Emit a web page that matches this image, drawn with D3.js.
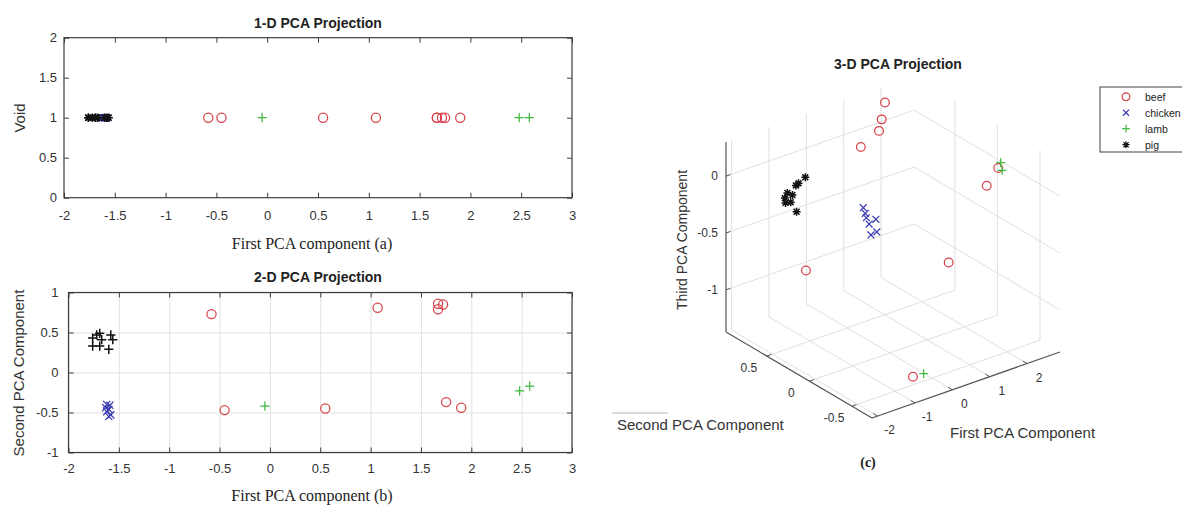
<!DOCTYPE html>
<html>
<head>
<meta charset="utf-8">
<script src="https://cdn.jsdelivr.net/npm/d3@7"></script>
<style>
  body { margin: 0; background: #fff; }
  svg { display: block; }
</style>
</head>
<body>
<script>
// PCA scores (PC1, PC2, PC3) per class
var beefPC1 = [-0.58, -0.45, 0.55, 1.07, 1.67, 1.67, 1.72, 1.75, 1.90];
var beefPC2 = [0.73, -0.47, -0.45, 0.81, 0.86, 0.79, 0.85, -0.37, -0.44];
var beefPC3 = [-0.90, -1.32, -0.44, -0.04, 0.01, 0.29, 0.11, 0.06, 0.23];

var chickenPC1 = [-1.62, -1.59, -1.63, -1.60, -1.62, -1.60, -1.58];
var chickenPC2 = [-0.40, -0.41, -0.44, -0.46, -0.49, -0.55, -0.53];
var chickenPC3 = [0.27, 0.22, 0.20, 0.15, 0.07, 0.12, 0.22];

var lambPC1 = [-0.05, 2.48, 2.58];
var lambPC2 = [-0.42, -0.23, -0.17];
var lambPC3 = [-1.36, 0.05, 0.08];

var pigPC1 = [-1.76, -1.72, -1.69, -1.67, -1.58, -1.56, -1.76, -1.69, -1.60];
var pigPC2 = [0.43, 0.47, 0.49, 0.41, 0.47, 0.41, 0.33, 0.33, 0.29];
var pigPC3 = [0.05, -0.06, -0.03, 0.03, -0.07, -0.13, 0.16, 0.17, 0.23];

var classNames = ["beef", "chicken", "lamb", "pig"];

// tick labels
var pc1Ticks = [-2, -1.5, -1, -0.5, 0, 0.5, 1, 1.5, 2, 2.5, 3];
var voidTicks = [0, 0.5, 1, 1.5, 2];
var pc2Ticks = [-1, -0.5, 0, 0.5, 1];
var ticks3x = [-2, -1, 0, 1, 2];
var ticks3y = [-0.5, 0, 0.5];
var ticks3z = [-1, -0.5, 0];

var colors = { beef: "#d9434b", chicken: "#3b3bb3", lamb: "#3fb93f", pig: "#111111" };
var markers = { beef: "o", chicken: "x", lamb: "+", pig: "*" };

var classes = [
  { name: "beef", pc1: beefPC1, pc2: beefPC2, pc3: beefPC3 },
  { name: "chicken", pc1: chickenPC1, pc2: chickenPC2, pc3: chickenPC3 },
  { name: "lamb", pc1: lambPC1, pc2: lambPC2, pc3: lambPC3 },
  { name: "pig", pc1: pigPC1, pc2: pigPC2, pc3: pigPC3 }
];
var points = [];
classes.forEach(function(c) {
  c.pc1.forEach(function(v, i) {
    points.push({ name: c.name, x: v, y: c.pc2[i], z: c.pc3[i] });
  });
});

var sans = "Arial, 'Liberation Sans', Helvetica, sans-serif";
var serif = "'Times New Roman', 'Liberation Serif', serif";
var axisColor = "#3d3d3d";
var textColor = "#333";

function markerPath(m, s) {
  s = s || 1;
  if (m == "o") return d3.symbol().type(d3.symbolCircle).size(66 * s * s)();
  if (m == "x") { var a = 3.6 * s; return "M" + -a + "," + -a + "L" + a + "," + a + "M" + -a + "," + a + "L" + a + "," + -a; }
  if (m == "+") { var b = 4.6 * s; return "M" + -b + ",0H" + b + "M0," + -b + "V" + b; }
  // asterisk = plus + cross
  var p = 4.2 * s, q = 3.1 * s;
  return "M" + -p + ",0H" + p + "M0," + -p + "V" + p +
         "M" + -q + "," + -q + "L" + q + "," + q + "M" + -q + "," + q + "L" + q + "," + -q;
}

function drawPoints(g, data, fx, fy, scale, override) {
  g.selectAll("path.pt")
    .data(data)
    .enter().append("path")
      .attr("class", "pt")
      .attr("d", function(d) { return markerPath((override && override[d.name]) || markers[d.name], scale); })
      .attr("transform", function(d) { return "translate(" + fx(d) + "," + fy(d) + ")"; })
      .attr("fill", "none")
      .attr("stroke", function(d) { return colors[d.name]; })
      .attr("stroke-width", function(d) { return d.name == "pig" ? 1.5 : 1.25; });
}

var svg = d3.select("body").append("svg")
    .attr("width", 1182)
    .attr("height", 506);

// 2-D style axes box with inward ticks on all sides
function boxAxes(g, x, y, xt, yt, xPad, yPad, grid) {
  var x0 = x.range()[0], x1 = x.range()[1], y0 = y.range()[0], y1 = y.range()[1];
  if (grid) {
    g.append("g").attr("transform", "translate(0," + y0 + ")")
      .call(d3.axisBottom(x).tickValues(xt).tickSize(-(y0 - y1)).tickFormat(""))
      .call(function(s) { s.select(".domain").remove(); s.selectAll("line").attr("stroke", "#e2e2e2"); });
    g.append("g").attr("transform", "translate(" + x0 + ",0)")
      .call(d3.axisLeft(y).tickValues(yt).tickSize(-(x1 - x0)).tickFormat(""))
      .call(function(s) { s.select(".domain").remove(); s.selectAll("line").attr("stroke", "#e2e2e2"); });
  }
  var fmt = function(d) { return String(d); };
  var styleAxis = function(s) {
    s.select(".domain").remove();
    s.selectAll("line").attr("stroke", axisColor);
    s.selectAll("text").attr("fill", textColor).style("font-family", sans).style("font-size", "13px");
  };
  g.append("g").attr("transform", "translate(0," + y0 + ")")
    .call(d3.axisBottom(x).tickValues(xt).tickSize(-5).tickPadding(xPad).tickFormat(fmt)).call(styleAxis);
  g.append("g").attr("transform", "translate(0," + y1 + ")")
    .call(d3.axisTop(x).tickValues(xt).tickSize(-5).tickFormat("")).call(styleAxis);
  g.append("g").attr("transform", "translate(" + x0 + ",0)")
    .call(d3.axisLeft(y).tickValues(yt).tickSize(-5).tickPadding(yPad).tickFormat(fmt)).call(styleAxis);
  g.append("g").attr("transform", "translate(" + x1 + ",0)")
    .call(d3.axisRight(y).tickValues(yt).tickSize(-5).tickFormat("")).call(styleAxis);
  g.append("rect")
    .attr("x", x0).attr("y", y1).attr("width", x1 - x0).attr("height", y0 - y1)
    .attr("fill", "none").attr("stroke", axisColor).attr("stroke-width", 1.2);
}

// ---------- (a) 1-D projection ----------
var xA = d3.scaleLinear().domain([-2, 3]).range([64, 572]);
var yA = d3.scaleLinear().domain([0, 2]).range([197.7, 37.7]);
var gA = svg.append("g");
boxAxes(gA, xA, yA, pc1Ticks, voidTicks, 13, 7, false);
drawPoints(gA, points, function(d) { return xA(d.x); }, function(d) { return yA(1); }, 1);

gA.append("text").attr("x", 318).attr("y", 28).attr("text-anchor", "middle")
  .style("font-family", sans).style("font-size", "14px").style("font-weight", "bold")
  .attr("fill", "#222").text("1-D PCA Projection");
gA.append("text").attr("transform", "translate(25,118) rotate(-90)").attr("text-anchor", "middle")
  .style("font-family", sans).style("font-size", "15px").attr("fill", textColor).text("Void");
gA.append("text").attr("x", 312).attr("y", 249).attr("text-anchor", "middle")
  .style("font-family", serif).style("font-size", "16px").attr("fill", "#222")
  .text("First PCA component  (a)");

// ---------- (b) 2-D projection ----------
var xB = d3.scaleLinear().domain([-2, 3]).range([68.5, 572]);
var yB = d3.scaleLinear().domain([-1, 1]).range([452.5, 292.5]);
var gB = svg.append("g");
boxAxes(gB, xB, yB, pc1Ticks, pc2Ticks, 11, 10, true);
drawPoints(gB, points, function(d) { return xB(d.x); }, function(d) { return yB(d.y); }, 1, { pig: "+" });

gB.append("text").attr("x", 318).attr("y", 282).attr("text-anchor", "middle")
  .style("font-family", sans).style("font-size", "14px").style("font-weight", "bold")
  .attr("fill", "#222").text("2-D PCA Projection");
gB.append("text").attr("transform", "translate(24,373) rotate(-90)").attr("text-anchor", "middle")
  .style("font-family", sans).style("font-size", "15px").attr("fill", textColor).text("Second PCA Component");
gB.append("text").attr("x", 312).attr("y", 501).attr("text-anchor", "middle")
  .style("font-family", serif).style("font-size", "16px").attr("fill", "#222")
  .text("First PCA component  (b)");

// ---------- (c) 3-D projection ----------
// screen corners of the axes box (orthographic view)
var cornerB = [872, 418];  // (xmin, ymin, zmin)
var cornerC = [1060, 352]; // (xmax, ymin, zmin)
var cornerA = [726, 332];  // (xmin, ymax, zmin)
var zHeight = 190;

var s3x = d3.scaleLinear().domain([-2.15, 2.88]).range([0, 1]);
var s3y = d3.scaleLinear().domain([-0.735, 0.98]).range([0, 1]);
var s3z = d3.scaleLinear().domain([-1.37, 0.30]).range([0, 1]);
var X0 = s3x.domain()[0], X1 = s3x.domain()[1];
var Y0 = s3y.domain()[0], Y1 = s3y.domain()[1];
var Z0 = s3z.domain()[0], Z1 = s3z.domain()[1];

function proj(x, y, z) {
  var u = s3x(x), v = s3y(y), w = s3z(z);
  return [
    cornerB[0] + u * (cornerC[0] - cornerB[0]) + v * (cornerA[0] - cornerB[0]),
    cornerB[1] + u * (cornerC[1] - cornerB[1]) + v * (cornerA[1] - cornerB[1]) - w * zHeight
  ];
}

var gC = svg.append("g");
var line3 = function(a, b, color, w) {
  var p = proj(a[0], a[1], a[2]), q = proj(b[0], b[1], b[2]);
  gC.append("line").attr("x1", p[0]).attr("y1", p[1]).attr("x2", q[0]).attr("y2", q[1])
    .attr("stroke", color).attr("stroke-width", w || 1);
};
var gridColor = "#e0e0e0";

// floor grid
ticks3x.forEach(function(t) { line3([t, Y0, Z0], [t, Y1, Z0], gridColor); });
ticks3y.forEach(function(t) { line3([X0, t, Z0], [X1, t, Z0], gridColor); });
// back wall y = ymax
ticks3x.forEach(function(t) { line3([t, Y1, Z0], [t, Y1, Z1], gridColor); });
ticks3z.forEach(function(t) { line3([X0, Y1, t], [X1, Y1, t], gridColor); });
// back wall x = xmax
ticks3y.forEach(function(t) { line3([X1, t, Z0], [X1, t, Z1], gridColor); });
ticks3z.forEach(function(t) { line3([X1, Y0, t], [X1, Y1, t], gridColor); });

// axis lines
var axc = "#555";
line3([X0, Y1, Z0], [X0, Y1, Z1], axc, 1.2);
line3([X0, Y0, Z0], [X0, Y1, Z0], axc, 1.2);
line3([X0, Y0, Z0], [X1, Y0, Z0], axc, 1.2);

// tick marks and labels
ticks3z.forEach(function(t) {
  line3([X0, Y1, t], [X0 + 0.12, Y1, t], axc);
  var p = proj(X0, Y1, t);
  gC.append("text").attr("x", p[0] - 8).attr("y", p[1] + 4).attr("text-anchor", "end")
    .style("font-family", sans).style("font-size", "12px").attr("fill", textColor).text(String(t));
});
ticks3y.forEach(function(t) {
  line3([X0, t, Z0], [X0 + 0.12, t, Z0], axc);
  var p = proj(X0, t, Z0);
  gC.append("text").attr("x", p[0] - 18).attr("y", p[1] + 16).attr("text-anchor", "middle")
    .style("font-family", sans).style("font-size", "12px").attr("fill", textColor).text(String(t));
});
ticks3x.forEach(function(t) {
  line3([t, Y0, Z0], [t, Y0 + 0.05, Z0], axc);
  var p = proj(t, Y0, Z0);
  gC.append("text").attr("x", p[0] + 12).attr("y", p[1] + 18).attr("text-anchor", "middle")
    .style("font-family", sans).style("font-size", "12px").attr("fill", textColor).text(String(t));
});

drawPoints(gC, points,
  function(d) { return proj(d.x, d.y, d.z)[0]; },
  function(d) { return proj(d.x, d.y, d.z)[1]; }, 0.95);

gC.append("text").attr("x", 898).attr("y", 69).attr("text-anchor", "middle")
  .style("font-family", sans).style("font-size", "14px").style("font-weight", "bold")
  .attr("fill", "#222").text("3-D PCA Projection");
gC.append("text").attr("transform", "translate(687,240) rotate(-90)").attr("text-anchor", "middle")
  .style("font-family", sans).style("font-size", "14px").attr("fill", textColor).text("Third PCA Component");
gC.append("line").attr("x1", 612).attr("y1", 413).attr("x2", 668).attr("y2", 413)
  .attr("stroke", "#b5b5b5").attr("stroke-width", 1);
gC.append("text").attr("x", 617).attr("y", 430).attr("text-anchor", "start")
  .style("font-family", sans).style("font-size", "15px").attr("fill", textColor).text("Second PCA Component");
gC.append("text").attr("x", 950).attr("y", 438).attr("text-anchor", "start")
  .style("font-family", sans).style("font-size", "15px").attr("fill", textColor).text("First PCA Component");
gC.append("text").attr("x", 868).attr("y", 467).attr("text-anchor", "middle")
  .style("font-family", serif).style("font-size", "14px").style("font-weight", "bold")
  .attr("fill", "#222").text("(c)");

// legend
var leg = svg.append("g").attr("transform", "translate(1100,87)");
leg.append("rect").attr("width", 100).attr("height", 65)
  .attr("fill", "#fff").attr("stroke", "#444").attr("stroke-width", 1);
var item = leg.selectAll("g.item").data(classNames).enter().append("g")
  .attr("class", "item")
  .attr("transform", function(d, i) { return "translate(0," + (9.7 + i * 16) + ")"; });
item.append("path")
  .attr("d", function(d) { return markerPath(markers[d], 0.85); })
  .attr("transform", "translate(26,0)")
  .attr("fill", "none")
  .attr("stroke", function(d) { return colors[d]; })
  .attr("stroke-width", 1.2);
item.append("text").attr("x", 45).attr("y", 4)
  .style("font-family", sans).style("font-size", "10.5px").attr("fill", "#222")
  .text(function(d) { return d; });
</script>
</body>
</html>
